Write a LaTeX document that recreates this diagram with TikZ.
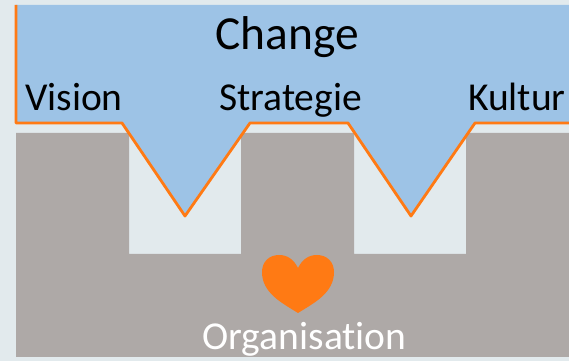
\documentclass[tikz,border=0pt]{standalone}
\usepackage{fontspec}
\setmainfont[Ligatures=NoCommon]{Carlito}
\definecolor{bgpale}{HTML}{E2EAED}
\definecolor{orggray}{HTML}{AEA9A7}
\definecolor{changeblue}{HTML}{9DC3E6}
\definecolor{lineorange}{HTML}{FF7A14}
\tikzset{
    smalllabel/.style={font=\fontsize{22.5}{26}\selectfont,inner sep=0pt,anchor=base},
    biglabel/.style={font=\fontsize{27}{31}\selectfont,inner sep=0pt,anchor=base}
}

\begin{document}
\begin{tikzpicture}[x=0.02cm,y=-0.02cm]
\useasboundingbox (0,0) rectangle (569,361);
\fill[bgpale] (0,0) rectangle (569,361);
\fill[orggray]
            (16,133) -- (129,133) -- (129,254) -- (241,254) -- (241,133)
            -- (354,133) -- (354,254) -- (466,254) -- (466,133)
            -- (569,133) -- (569,357) -- (16,357) -- cycle
        ;
\fill[changeblue]
            (16,5) -- (569,5) -- (569,123) -- (475,123) -- (411,216) -- (348,123)
            -- (250,123) -- (185,216) -- (122,123) -- (16,123) -- cycle
        ;
\draw[lineorange,line width=1.6pt,line join=round]
            (16,5) -- (16,123) -- (122,123) -- (185,216) -- (250,123)
            -- (348,123) -- (411,216) -- (475,123) -- (569,123)
        ;
\fill[lineorange]
            (298,313) .. controls (282,303) and (262,293) .. (262,272)
            .. controls (262,262) and (269,255) .. (279,255)
            .. controls (288,255) and (294,260) .. (298,268)
            .. controls (302,260) and (308,255) .. (317,255)
            .. controls (327,255) and (334,262) .. (334,272)
            .. controls (334,293) and (314,303) .. (298,313)
        ;
\node[biglabel] (change) at (287,50) {Change};
\node[smalllabel] (vision) at (74,111) {Vision};
\node[smalllabel] (strategie) at (290.5,111) {Strategie};
\node[smalllabel] (kultur) at (517,111) {Kultur};
\node[smalllabel,text=white] (organisation) at (304.5,350) {Organisation};
\end{tikzpicture}
\end{document}
